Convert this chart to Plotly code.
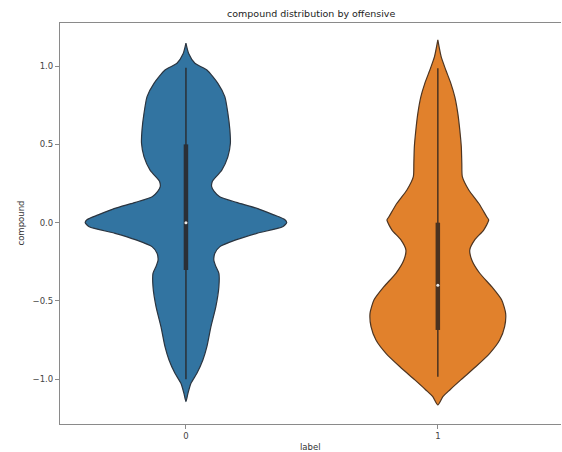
import plotly.graph_objects as go

# Categories on the x axis
labels = ["0", "1"]

# Kernel-density outlines: compound values and the relative density at each
# (1.0 = widest point of the widest violin)
dens_y_0 = [-1.143, -1.09, -1.026, -0.962, -0.877, -0.792, -0.664, -0.536, -0.409,
            -0.323, -0.28, -0.24, -0.195, -0.153, -0.11, -0.068, -0.026, 0.0, 0.02,
            0.05, 0.09, 0.13, 0.166, 0.20, 0.23, 0.26, 0.273, 0.336, 0.42, 0.507,
            0.593, 0.70, 0.805, 0.89, 0.975, 1.018, 1.08, 1.146]
dens_0 = [0.0, 0.02, 0.05, 0.109, 0.168, 0.208, 0.248, 0.297, 0.327,
          0.327, 0.297, 0.277, 0.287, 0.337, 0.495, 0.703, 0.96, 1.0, 0.98,
          0.871, 0.713, 0.50, 0.335, 0.28, 0.255, 0.26, 0.272, 0.356, 0.416, 0.441,
          0.436, 0.416, 0.386, 0.317, 0.208, 0.089, 0.027, 0.0]

dens_y_1 = [-1.164, -1.111, -1.068, -1.004, -0.92, -0.834, -0.749, -0.664, -0.579,
            -0.494, -0.409, -0.323, -0.238, -0.174, -0.11, -0.047, 0.017, 0.038,
            0.124, 0.209, 0.294, 0.38, 0.485, 0.592, 0.70, 0.805, 0.89, 0.975, 1.06, 1.167]
dens_1 = [0.0, 0.05, 0.119, 0.228, 0.376, 0.515, 0.614, 0.663, 0.673,
          0.634, 0.535, 0.416, 0.337, 0.317, 0.366, 0.455, 0.505, 0.485,
          0.406, 0.307, 0.243, 0.238, 0.233, 0.218, 0.198, 0.168, 0.129, 0.079, 0.033, 0.0]

# Box summary per category: whisker low, Q1, median, Q3, whisker high
whisk_lo = [-1.0, -0.983]
q1 = [-0.302, -0.685]
median = [0.0, -0.40]
q3 = [0.50, 0.0]
whisk_hi = [0.99, 0.986]

fills = ["#3274a1", "#e1812c"]
edges = ["#2b3540", "#4d3522"]
inner = ["#2a2f36", "#4a3220"]

half_width = 0.4  # half of seaborn's default violin width (0.8)

fig = go.Figure()

groups = [(dens_y_0, dens_0), (dens_y_1, dens_1)]
for i, (ys, ds) in enumerate(groups):
    xs_right = [i + d * half_width for d in ds]
    xs_left = [i - d * half_width for d in reversed(ds)]
    fig.add_trace(go.Scatter(
        x=xs_right + xs_left,
        y=list(ys) + list(reversed(ys)),
        mode="lines",
        fill="toself",
        fillcolor=fills[i],
        line=dict(color=edges[i], width=1.2, shape="spline", smoothing=0.6),
        hoverinfo="skip",
        showlegend=False,
    ))
    # whisker
    fig.add_trace(go.Scatter(
        x=[i, i], y=[whisk_lo[i], whisk_hi[i]], mode="lines",
        line=dict(color=inner[i], width=1.5), hoverinfo="skip", showlegend=False,
    ))
    # interquartile box
    fig.add_trace(go.Scatter(
        x=[i, i], y=[q1[i], q3[i]], mode="lines",
        line=dict(color=inner[i], width=4.5), hoverinfo="skip", showlegend=False,
    ))
    # median marker
    fig.add_trace(go.Scatter(
        x=[i], y=[median[i]], mode="markers",
        marker=dict(color="#e8e8e8", size=3, line=dict(width=0)),
        hoverinfo="skip", showlegend=False,
    ))

axis_color = "#8a8a8a"
tick_font = dict(family="DejaVu Sans", size=8.5, color="#444444")

fig.update_layout(
    width=562, height=452, autosize=False,
    margin=dict(l=60, r=1, t=23, b=28),
    paper_bgcolor="white", plot_bgcolor="white",
    showlegend=False,
    xaxis=dict(
        range=[-0.5, 1.489], tickmode="array", tickvals=[0, 1], ticktext=labels,
        showgrid=False, zeroline=False, showline=True, linecolor=axis_color,
        linewidth=1.2, mirror=False, ticks="outside", ticklen=4, tickcolor=axis_color,
        tickfont=tick_font,
    ),
    xaxis2=dict(overlaying="x", side="top", showline=True, linecolor=axis_color,
                linewidth=1.2, showticklabels=False, showgrid=False, zeroline=False,
                range=[-0.5, 1.489]),
    yaxis=dict(
        range=[-1.2855, 1.2752], tickvals=[-1.0, -0.5, 0.0, 0.5, 1.0],
        ticktext=["\u22121.0", "\u22120.5", "0.0", "0.5", "1.0"],
        showgrid=False, zeroline=False, showline=True, linecolor=axis_color,
        linewidth=1.2, ticks="outside", ticklen=4, tickcolor=axis_color,
        tickfont=tick_font,
    ),
    annotations=[
        dict(text="compound distribution by offensive", xref="paper", yref="paper",
             x=0.5, y=1, yshift=10, showarrow=False, yanchor="middle",
             font=dict(family="DejaVu Sans", size=9.5, color="#222222")),
        dict(text="label", xref="paper", yref="paper", x=0.5, y=0, yshift=-23,
             showarrow=False, yanchor="middle",
             font=dict(family="DejaVu Sans", size=8.5, color="#333333")),
        dict(text="compound", xref="paper", yref="paper", x=0, y=0.5, xshift=-40,
             showarrow=False, textangle=-90, xanchor="center",
             font=dict(family="DejaVu Sans", size=8.5, color="#333333")),
    ],
)

# empty trace to render the top spine
fig.add_trace(go.Scatter(x=[], y=[], xaxis="x2", showlegend=False, hoverinfo="skip"))

fig.write_html("out.html")
